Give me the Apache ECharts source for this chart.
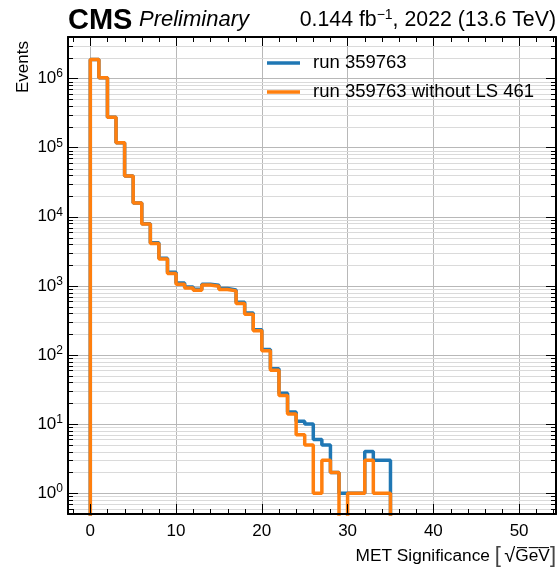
<!DOCTYPE html>
<html>
<head>
<meta charset="utf-8">
<script src="https://cdn.jsdelivr.net/npm/echarts@6/dist/echarts.min.js"></script>
<style>
  html, body { margin: 0; padding: 0; background: #fff; }
  #chart { width: 559px; height: 568px; }
</style>
</head>
<body>
<div id="chart"></div>
<script>
// histogram bins, width 1, from 0 to 35
const binEdges = [0, 1, 2, 3, 4, 5, 6, 7, 8, 9, 10, 11, 12, 13, 14, 15, 16, 17, 18, 19, 20,
  21, 22, 23, 24, 25, 26, 27, 28, 29, 30, 31, 32, 33, 34, 35];
const runCounts = [1890000, 1030000, 277000, 118000, 38900, 15800, 7950, 4200, 2520, 1570,
  1100, 965, 895, 1060, 1020, 915, 875, 580, 405, 232, 120, 63, 28, 15, 11, 10, 6, 5, 2, 1,
  1, 1, 4, 3, 3];
const runNoLsCounts = [1890000, 1030000, 277000, 118000, 38900, 15800, 7870, 4100, 2450, 1510,
  1060, 935, 867, 1030, 990, 887, 847, 557, 390, 224, 115, 60, 26, 14, 7, 5, 1, 3, 2, 0,
  1, 1, 3, 1, 1];
const seriesNames = ["run 359763", "run 359763 without LS 461"];
const seriesColors = ["#1f77b4", "#ff7f0e"];

const xMin = -2.6, xMax = 54.3;
const yMin = 0.5, yMax = 4e6;
const FLOOR = 0.1; // empty bins go below the axis and get clipped

// minor ticks: x every 2, y at 2..9 x 10^k
const xMinorTicks = [];
for (let v = -2; v <= 54; v += 2) if (v % 10 !== 0) xMinorTicks.push(v);
const yMinorTicks = [];
for (let e = -1; e <= 6; e++) {
  for (let m = 2; m <= 9; m++) {
    const v = m * Math.pow(10, e);
    if (v > yMin && v < yMax) yMinorTicks.push(v);
  }
}

function stepData(counts) {
  const pts = [[binEdges[0], FLOOR]];
  counts.forEach((c, i) => pts.push([binEdges[i], c > 0 ? c : FLOOR]));
  pts.push([binEdges[counts.length], FLOOR]);
  return pts;
}

const font = "Liberation Sans, Arial, Helvetica, sans-serif";
const myChart = echarts.init(document.getElementById("chart"), null, { renderer: "canvas" });

const yLabel = {
  fontFamily: font,
  color: "#000",
  margin: 5,
  formatter: v => {
    const lg = Math.log10(v);
    const e = Math.round(lg);
    if (Math.abs(lg - e) > 1e-6) return "";
    return "{b|10}{s|" + e + "}";
  },
  rich: {
    b: { fontSize: 17, fontFamily: font, color: "#000" },
    s: { fontSize: 12, fontFamily: font, color: "#000", padding: [0, 0, 9, 0] }
  }
};

const option = {
  animation: false,
  grid: { left: 68, right: 3, top: 37, bottom: 54 },
  legend: {
    orient: "vertical",
    left: 267,
    top: 53,
    padding: 0,
    icon: "rect",
    itemWidth: 33,
    itemHeight: 3.5,
    itemGap: 9,
    data: seriesNames,
    textStyle: { fontFamily: font, fontSize: 18.5, color: "#000", lineHeight: 20, padding: [0, 0, 0, 8] }
  },
  xAxis: [
    {
      type: "value", min: xMin, max: xMax, position: "bottom", z: 5,
      axisLine: { show: true, onZero: false, lineStyle: { color: "#000", width: 2 } },
      axisTick: { show: true, inside: true, length: 10, lineStyle: { color: "#000", width: 1 } },
      axisLabel: {
        fontFamily: font, fontSize: 17, color: "#000", margin: 9,
        formatter: v => (Math.abs(v % 10) < 1e-9 ? String(v) : "")
      },
      splitLine: { show: false }
    },
    {
      type: "value", min: xMin, max: xMax, position: "top", z: 0,
      axisLine: { show: true, onZero: false, lineStyle: { color: "#000", width: 2 } },
      axisTick: { show: true, inside: true, length: 10, lineStyle: { color: "#000", width: 1 } },
      axisLabel: { show: false },
      splitLine: { show: true, lineStyle: { color: "#b8b8b8", width: 1 } }
    }
  ],
  yAxis: [
    {
      type: "log", logBase: 10, min: yMin, max: yMax, position: "left", z: 5,
      axisLine: { show: true, onZero: false, lineStyle: { color: "#000", width: 2 } },
      axisTick: { show: true, inside: true, length: 10, lineStyle: { color: "#000", width: 1 } },
      axisLabel: yLabel,
      splitLine: { show: false }
    },
    {
      type: "log", logBase: 10, min: yMin, max: yMax, position: "right", z: 0,
      axisLine: { show: true, onZero: false, lineStyle: { color: "#000", width: 2 } },
      axisTick: { show: true, inside: true, length: 10, lineStyle: { color: "#000", width: 1 } },
      axisLabel: { show: false },
      splitLine: { show: true, lineStyle: { color: "#b8b8b8", width: 1 } }
    }
  ],
  series: [
    {
      name: "yMinor",
      type: "custom",
      z: 1,
      silent: true,
      data: yMinorTicks.map(v => [0, v]),
      renderItem: (params, api) => {
        const cs = params.coordSys;
        const y = Math.round(api.coord([0, api.value(1)])[1]) + 0.5;
        return {
          type: "group",
          children: [
            { type: "line", shape: { x1: cs.x, y1: y, x2: cs.x + cs.width, y2: y }, style: { stroke: "#dadada", lineWidth: 1 } },
            { type: "line", shape: { x1: cs.x, y1: y, x2: cs.x + 5, y2: y }, style: { stroke: "#000", lineWidth: 1 } },
            { type: "line", shape: { x1: cs.x + cs.width - 5, y1: y, x2: cs.x + cs.width, y2: y }, style: { stroke: "#000", lineWidth: 1 } }
          ]
        };
      }
    },
    {
      name: "xMinor",
      type: "custom",
      z: 1,
      silent: true,
      data: xMinorTicks.map(v => [v, 1]),
      renderItem: (params, api) => {
        const cs = params.coordSys;
        const x = Math.round(api.coord([api.value(0), 1])[0]) + 0.5;
        return {
          type: "group",
          children: [
            { type: "line", shape: { x1: x, y1: cs.y + cs.height, x2: x, y2: cs.y + cs.height - 5 }, style: { stroke: "#000", lineWidth: 1 } },
            { type: "line", shape: { x1: x, y1: cs.y, x2: x, y2: cs.y + 5 }, style: { stroke: "#000", lineWidth: 1 } }
          ]
        };
      }
    },
    {
      name: seriesNames[0],
      type: "line",
      step: "end",
      z: 2,
      showSymbol: false,
      color: seriesColors[0],
      lineStyle: { width: 3.5, color: seriesColors[0] },
      data: stepData(runCounts)
    },
    {
      name: seriesNames[1],
      type: "line",
      step: "end",
      z: 3,
      showSymbol: false,
      color: seriesColors[1],
      lineStyle: { width: 3.5, color: seriesColors[1] },
      data: stepData(runNoLsCounts)
    }
  ],
  graphic: [
    {
      type: "text", left: 68, top: 6,
      style: { text: "CMS", fontFamily: font, fontSize: 29, fontWeight: "bold", fill: "#000" }
    },
    {
      type: "text", left: 139, top: 9,
      style: { text: "Preliminary", fontFamily: font, fontSize: 22, fontStyle: "italic", fill: "#000" }
    },
    {
      type: "text", right: 3, top: 8,
      style: {
        text: "0.144 fb{s|\u22121}, 2022 (13.6 TeV)",
        fontFamily: font, fontSize: 21.3, fill: "#000",
        rich: { s: { fontFamily: font, fontSize: 14, fill: "#000", padding: [0, 0, 10, 0] } }
      }
    },
    {
      type: "text", x: 23, y: 67, rotation: Math.PI / 2,
      style: { text: "Events", fontFamily: font, fontSize: 17, fill: "#000", align: "center", verticalAlign: "middle" }
    },
    {
      type: "text", right: 3, top: 545,
      style: {
        text: "MET Significance {br|[}\u2009{sq|\u221A}G\u0305e\u0305V\u0305{br|]}",
        fontFamily: font, fontSize: 17.3, fill: "#000",
        rich: {
          br: { fontFamily: font, fontSize: 22, fill: "#444" },
          sq: { fontFamily: font, fontSize: 20, fill: "#000" }
        }
      }
    }
  ]
};

myChart.setOption(option);
</script>
</body>
</html>
